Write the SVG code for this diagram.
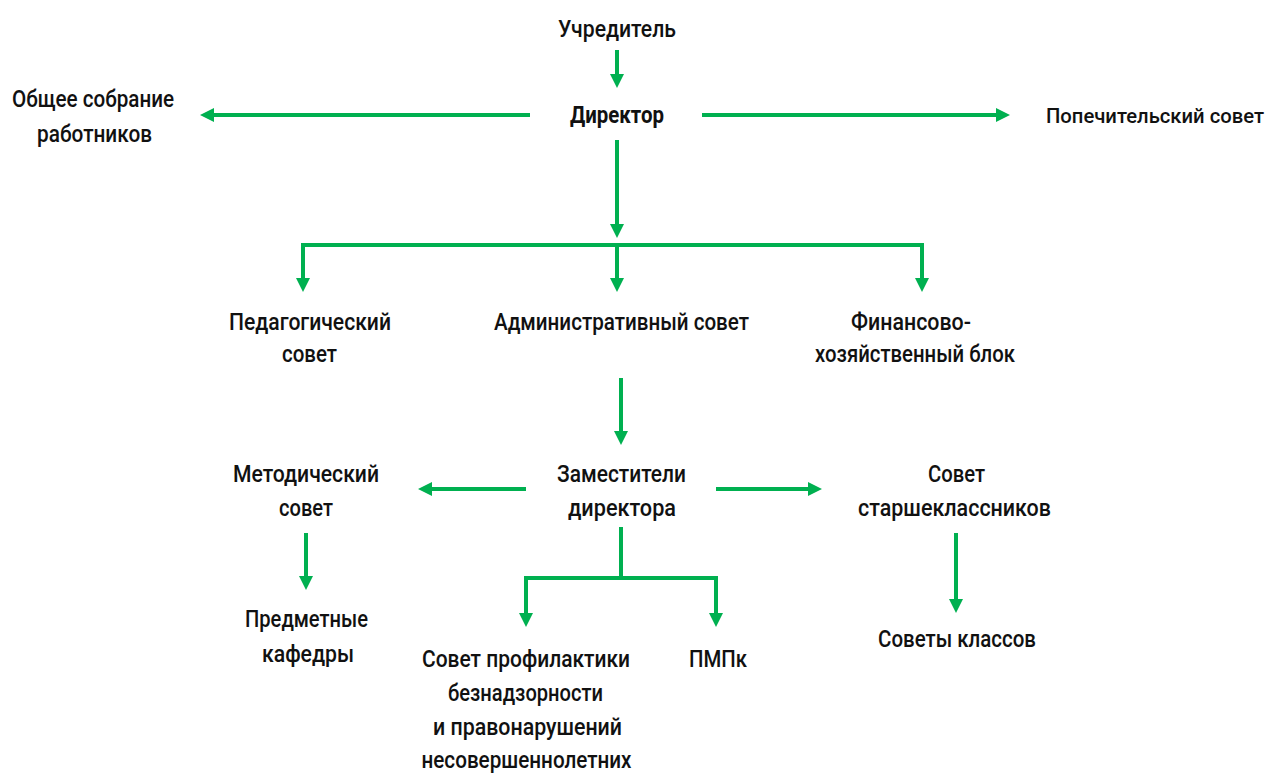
<svg xmlns="http://www.w3.org/2000/svg" width="1271" height="776" viewBox="0 0 1271 776">
<style>
text{font-family:Roboto,"Noto Sans",sans-serif;font-size:24px;font-weight:500;fill:#111;text-anchor:middle}
.b{font-weight:700}
.c{fill:none;stroke:#00b050;stroke-width:4}
</style>
<defs>
<marker id="ah" markerUnits="userSpaceOnUse" markerWidth="15" markerHeight="15" refX="8" refY="7" orient="auto">
<path d="M0,0 L14,7 L0,14 z" fill="#00b050"/>
</marker>
</defs>
<rect width="1271" height="776" fill="#fff"/>
<g id="connectors">
<line class="c" x1="617" y1="50" x2="617" y2="82" marker-end="url(#ah)"/>
<line class="c" x1="530" y1="115" x2="206" y2="115" marker-end="url(#ah)"/>
<line class="c" x1="702" y1="115" x2="1004" y2="115" marker-end="url(#ah)"/>
<line class="c" x1="617" y1="140" x2="617" y2="232" marker-end="url(#ah)"/>
<polyline class="c" points="303,286 303,245 922,245 922,286" marker-end="url(#ah)"/>
<line class="c" x1="303" y1="247" x2="303" y2="286" marker-end="url(#ah)"/>
<line class="c" x1="617" y1="245" x2="617" y2="286" marker-end="url(#ah)"/>
<line class="c" x1="621" y1="378" x2="621" y2="439" marker-end="url(#ah)"/>
<line class="c" x1="526" y1="489" x2="424" y2="489" marker-end="url(#ah)"/>
<line class="c" x1="716" y1="489" x2="816" y2="489" marker-end="url(#ah)"/>
<line class="c" x1="306" y1="533" x2="306" y2="584" marker-end="url(#ah)"/>
<line class="c" x1="956" y1="533" x2="956" y2="607" marker-end="url(#ah)"/>
<line class="c" x1="621" y1="527" x2="621" y2="578"/>
<polyline class="c" points="526,621 526,578 716,578 716,621" marker-end="url(#ah)"/>
<line class="c" x1="526" y1="580" x2="526" y2="621" marker-end="url(#ah)"/>
</g>
<g id="uchreditel"><text x="617" y="37" textLength="118" lengthAdjust="spacingAndGlyphs">Учредитель</text></g>
<g id="direktor"><text class="b" x="617" y="123" textLength="94" lengthAdjust="spacingAndGlyphs">Директор</text></g>
<g id="obshchee"><text x="93" y="107" textLength="162" lengthAdjust="spacingAndGlyphs">Общее собрание</text><text x="94.5" y="142" textLength="115" lengthAdjust="spacingAndGlyphs">работников</text></g>
<g id="popechitelsky"><text x="1155" y="123" style="font-size:20px" textLength="218" lengthAdjust="spacingAndGlyphs">Попечительский совет</text></g>
<g id="pedsovet"><text x="310" y="330" textLength="162" lengthAdjust="spacingAndGlyphs">Педагогический</text><text x="309.5" y="362" textLength="55" lengthAdjust="spacingAndGlyphs">совет</text></g>
<g id="adminsovet"><text x="621.5" y="330" textLength="255" lengthAdjust="spacingAndGlyphs">Административный совет</text></g>
<g id="finblok"><text x="911" y="330" textLength="120" lengthAdjust="spacingAndGlyphs">Финансово-</text><text x="915" y="362" textLength="200" lengthAdjust="spacingAndGlyphs">хозяйственный блок</text></g>
<g id="zamestiteli"><text x="621.5" y="482" textLength="129" lengthAdjust="spacingAndGlyphs">Заместители</text><text x="622" y="516" textLength="108" lengthAdjust="spacingAndGlyphs">директора</text></g>
<g id="metodsovet"><text x="306" y="482" textLength="146" lengthAdjust="spacingAndGlyphs">Методический</text><text x="306" y="516" textLength="54" lengthAdjust="spacingAndGlyphs">совет</text></g>
<g id="starsheklass"><text x="956.5" y="482" textLength="57" lengthAdjust="spacingAndGlyphs">Совет</text><text x="954.5" y="516" textLength="193" lengthAdjust="spacingAndGlyphs">старшеклассников</text></g>
<g id="kafedry"><text x="306.5" y="627" textLength="123" lengthAdjust="spacingAndGlyphs">Предметные</text><text x="308" y="662" textLength="92" lengthAdjust="spacingAndGlyphs">кафедры</text></g>
<g id="profilaktika"><text x="526" y="667" textLength="208" lengthAdjust="spacingAndGlyphs">Совет профилактики</text><text x="525.5" y="701" textLength="155" lengthAdjust="spacingAndGlyphs">безнадзорности</text><text x="527.5" y="735" textLength="189" lengthAdjust="spacingAndGlyphs">и правонарушений</text><text x="526.5" y="768" textLength="210" lengthAdjust="spacingAndGlyphs">несовершеннолетних</text></g>
<g id="pmpk"><text x="718" y="667" textLength="58" lengthAdjust="spacingAndGlyphs">ПМПк</text></g>
<g id="sovety_klassov"><text x="957" y="647" textLength="158" lengthAdjust="spacingAndGlyphs">Советы классов</text></g>
</svg>
